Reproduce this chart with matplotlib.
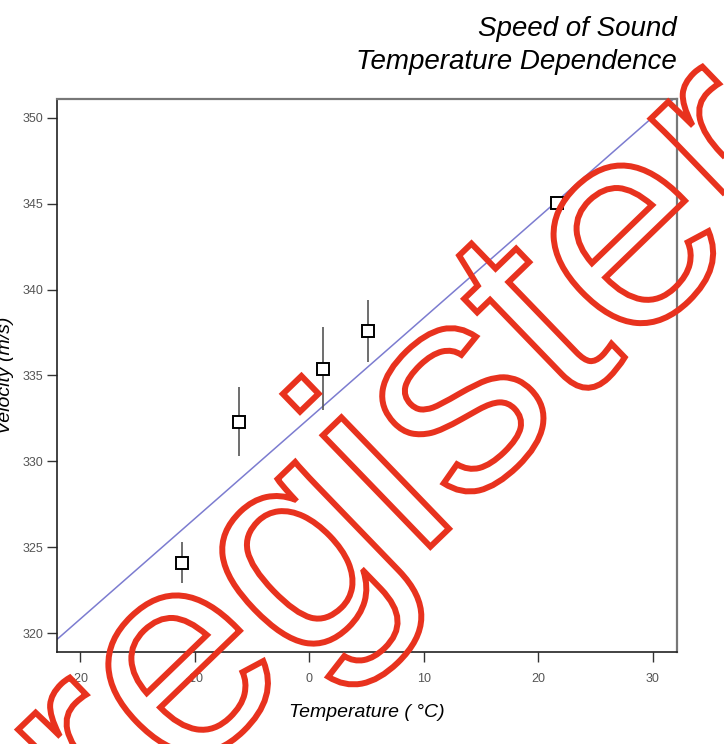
import numpy as np
import matplotlib.pyplot as plt
from matplotlib.textpath import TextPath
from matplotlib.font_manager import FontProperties
from matplotlib.patches import PathPatch
from matplotlib.transforms import Affine2D, IdentityTransform

# measured data
temperature = [-11.1, -6.1, 1.2, 5.1, 21.6]
velocity = [324.1, 332.3, 335.4, 337.6, 345.05]
velocity_err = [1.2, 2.0, 2.4, 1.8, 0.0]

# linear fit v = a + b*T
fit_a = 332.5
fit_b = 0.585

x_ticks = [-20, -10, 0, 10, 20, 30]
y_ticks = [320, 325, 330, 335, 340, 345, 350]

plt.rcParams['font.family'] = ['Liberation Sans', 'DejaVu Sans']
plt.rcParams['axes.unicode_minus'] = False

fig = plt.figure(figsize=(7.24, 7.44), dpi=100)
ax = fig.add_axes([0.0787, 0.1237, 0.8564, 0.7433])

# fit line across full axis
xl = np.array([-22.0, 32.1])
ax.plot(xl, fit_a + fit_b * xl, color='#7c7cd0', lw=1.1, zorder=1)

ax.errorbar(temperature, velocity, yerr=velocity_err, fmt='none',
            ecolor='#555555', elinewidth=1.2, capsize=0, zorder=2)
ax.plot(temperature, velocity, 's', ms=9, mfc='white', mec='black',
        mew=1.4, zorder=3)

ax.set_xlim(-22.0, 32.1)
ax.set_ylim(318.9, 351.1)
ax.set_xticks(x_ticks)
ax.set_yticks(y_ticks)
ax.tick_params(direction='out', length=7, width=1, colors='#333333',
               labelsize=9, labelcolor='#555555')
ax.tick_params(axis='y', pad=3)
ax.tick_params(axis='x', pad=8)
for s in ['left', 'bottom']:
    ax.spines[s].set_color('#222222')
    ax.spines[s].set_linewidth(1.2)
for s in ['top', 'right']:
    ax.spines[s].set_color('#777777')
    ax.spines[s].set_linewidth(1.6)

ax.set_xlabel('Temperature ( °C)', fontsize=14, style='italic', labelpad=14)
fig.text(0.007, 0.496, 'Velocity (m/s)', fontsize=14, style='italic',
         rotation=90, ha='center', va='center')

fig.text(0.935, 0.961, 'Speed of Sound', fontsize=20, style='italic',
         ha='right', va='center')
fig.text(0.935, 0.917, 'Temperature Dependence', fontsize=20,
         style='italic', ha='right', va='center')

# red outlined watermark
fp = FontProperties(family='Liberation Sans')
S = 293
word = 'Unregistered'
tp = TextPath((0, 0), word, size=S, prop=fp)
pre = TextPath((0, 0), 'Unreg', size=S, prop=fp)
ix = pre.get_extents().x1 + 0.06 * S + 0.111 * S
iy = 0.667 * S
tr = Affine2D().translate(-ix, -iy).rotate_deg(44).translate(303, 744 - 398)
patch = PathPatch(tr.transform_path(tp), facecolor='none', edgecolor='#e8321e',
                  lw=4.3, transform=IdentityTransform(), zorder=10)
fig.patches.append(patch)

fig.savefig('out.png', dpi=100)
